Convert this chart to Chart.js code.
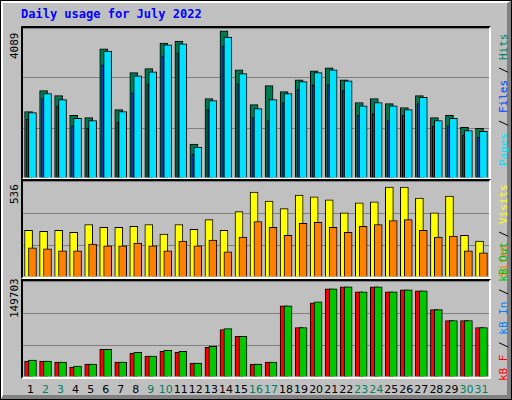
<!DOCTYPE html>
<html><head><meta charset="utf-8">
<script src="https://cdn.jsdelivr.net/npm/chart.js@4"></script>
<style>
body{margin:0;background:#fff}
#wrap{position:relative;width:510px;height:398px;background:#c0c0c0;border:1px solid #000;overflow:hidden}
#shade{position:absolute;left:0;top:0;width:504px;height:392px;border-right:4px solid #808080;border-bottom:4px solid #808080;border-top:2px solid #fff;border-left:2px solid #fff}
.panel{position:absolute;left:20px;width:470px;box-sizing:border-box;border-top:2px solid #000;border-left:2px solid #000;border-right:2px solid #fff;border-bottom:2px solid #fff}
.panel canvas{display:block}
#title{position:absolute;left:20px;top:6px;font:bold 12px "DejaVu Sans Mono",monospace;color:#0000ff}
.ylab{position:absolute;font:11px "DejaVu Sans Mono",monospace;color:#000;transform:rotate(-90deg);transform-origin:left top;white-space:nowrap}
.rlab{position:absolute;left:496px;font:11px "DejaVu Sans Mono",monospace;transform:rotate(-90deg);transform-origin:left top;white-space:nowrap}
.dl{position:absolute;top:382px;font:11px "DejaVu Sans",sans-serif;width:20px;text-align:center}
</style></head><body>
<div id="wrap"><div id="shade"></div>
<div id="title">Daily usage for July 2022</div>
<div class="panel" style="top:25px;height:154px"><canvas id="c1"></canvas></div>
<div class="panel" style="top:178px;height:100px"><canvas id="c2"></canvas></div>
<div class="panel" style="top:278px;height:100px"><canvas id="c3"></canvas></div>
<div class="ylab" style="left:7px;top:58px">4089</div>
<div class="ylab" style="left:7px;top:203px">536</div>
<div class="ylab" style="left:7px;top:317px">149703</div>
<div class="rlab" style="top:165px"><span style="color:#00e0ff">Pages</span> / <span style="color:#0040ff">Files</span> / <span style="color:#008060">Hits</span></div>
<div class="rlab" style="top:276px"><span style="color:#ff8000">Sites</span> / <span style="color:#ffff00">Visits</span></div>
<div class="rlab" style="top:380px"><span style="color:#ff0000">kB F</span> / <span style="color:#0080ff">kB In</span> / <span style="color:#00c000">kB Out</span></div>
<div id="days"></div>
</div>
<script>
var days = [1,2,3,4,5,6,7,8,9,10,11,12,13,14,15,16,17,18,19,20,21,22,23,24,25,26,27,28,29,30,31]
var weekend = [2,3,9,10,16,17,23,24,30,31]
var hits = [1850,2430,2290,1740,1680,3590,1900,2930,3040,3750,3810,940,2210,4089,3010,2040,2570,2400,2730,2980,3060,2730,2100,2210,2070,1960,2290,1680,1740,1410,1380]
var files = [1820,2350,2180,1660,1600,3530,1850,2840,2950,3700,3730,860,2150,3920,2900,1930,2180,2350,2680,2930,3010,2700,2010,2100,2010,1900,2240,1600,1660,1320,1300]
var pages = [1630,2210,2010,1460,1380,3150,1550,2370,2620,3400,3480,660,1900,3670,2620,1680,1600,2100,2460,2590,2590,2430,1740,1790,1600,1740,2070,1440,1460,1190,1130]
var visits = [266,260,266,255,299,283,283,288,299,244,299,272,327,266,372,484,433,389,467,456,439,366,422,428,512,512,450,366,461,238,205]
var sites = [166,160,149,149,188,177,177,193,177,149,205,177,210,143,227,316,283,238,305,311,283,255,288,299,322,327,266,227,233,149,138]
var kbF = [25200,25200,23600,15800,20500,44100,23600,37800,33100,41000,39400,22000,47300,75600,64600,20500,23600,113400,78800,118100,140200,143300,135500,143300,135500,138600,137000,107100,89800,89800,78800]
var kbOut = [26800,25200,23600,17300,20500,44100,23600,39400,33100,42500,41000,22000,48800,77200,64600,20500,23600,113400,78800,119700,140200,143300,135500,143300,135500,138600,137000,107100,89800,89800,78800]
var maxTop = 4089, maxMid = 536, maxBot = 149703

function pts(vals, off){ return vals.map((v,i)=>({x: days[i]+off, y: v})) }
function ds(vals, off, color, w, order){
  return {data: pts(vals, off), backgroundColor: color, borderColor: '#000', borderWidth: 1,
    barThickness: w, grouped: false, order: order, borderSkipped: 'bottom'}
}
function draw(id, h, sets, max){
  var cv = document.getElementById(id)
  cv.width = 466; cv.height = h
  new Chart(cv, {
    type: 'bar',
    data: {datasets: sets},
    options: {
      responsive: false, animation: false,
      layout: {padding: 0},
      plugins: {legend: {display: false}, tooltip: {enabled: false}},
      scales: {
        x: {type: 'linear', min: 0.5, max: 31.5, offset: false, bounds: 'ticks', display: false},
        y: {min: 0, max: max * 1.02, afterFit: s => { s.width = 0 },
          ticks: {display: false, stepSize: max * 1.02 / 3},
          grid: {color: '#808080', drawTicks: false, lineWidth: 1},
          border: {display: false}}
      }
    }
  })
}
draw('c1', 150, [
  ds(hits, -0.13, '#007850', 8, 3),
  ds(files, 0.13, '#00e0ff', 8, 2),
  ds(pages, -0.2, '#0040ff', 2, 1)
], maxTop)
draw('c2', 96, [
  ds(visits, -0.13, '#ffff00', 8, 2),
  ds(sites, 0.13, '#ff8000', 8, 1)
], maxMid)
draw('c3', 96, [
  ds(kbF, -0.13, '#ff0000', 8, 2),
  ds(kbOut, 0.13, '#00c800', 8, 1)
], maxBot)

var box = document.getElementById('days')
days.forEach(function(d, i){
  var s = document.createElement('div')
  s.className = 'dl'
  s.style.left = (22 + (i + 0.5) * 466 / 31 - 10) + 'px'
  s.style.color = weekend.indexOf(d) >= 0 ? '#008060' : '#000'
  s.textContent = d
  box.appendChild(s)
})
</script>
</body></html>
